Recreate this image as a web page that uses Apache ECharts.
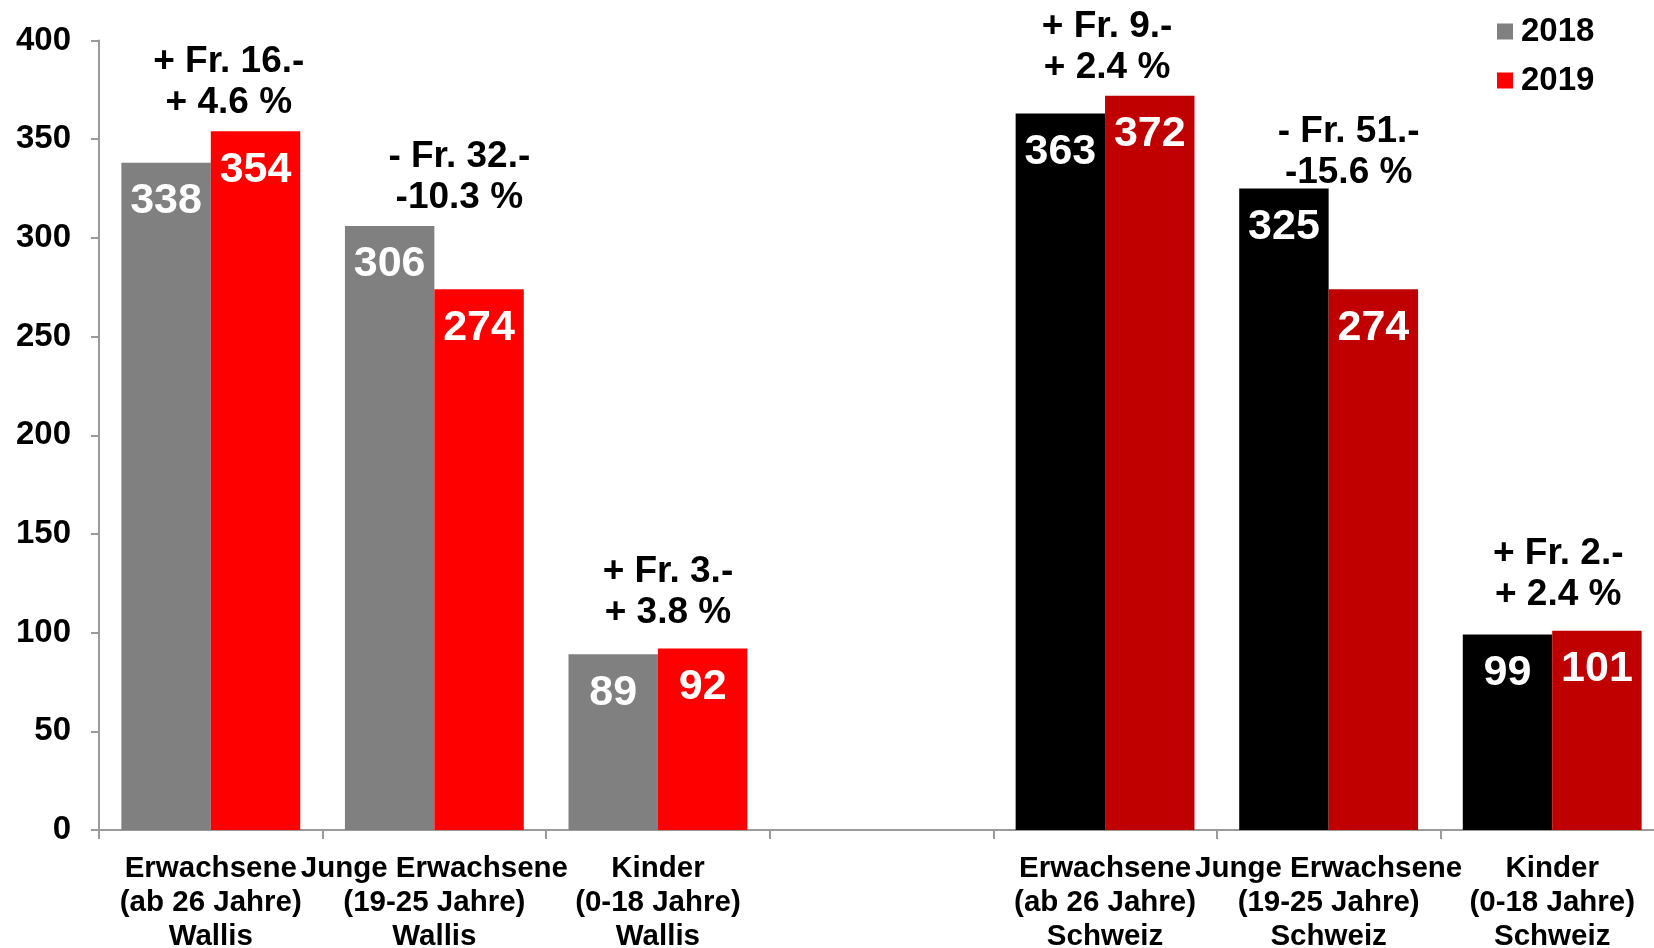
<!DOCTYPE html>
<html>
<head>
<meta charset="utf-8">
<script src="https://cdn.jsdelivr.net/npm/echarts@6/dist/echarts.min.js"></script>
<style>
html,body{margin:0;padding:0;background:#fff;overflow:hidden;}
#chart{width:1664px;height:948px;}
</style>
</head>
<body>
<div id="chart"></div>
<script>
const categories = [
  'Erwachsene\n(ab 26 Jahre)\nWallis',
  'Junge Erwachsene\n(19-25 Jahre)\nWallis',
  'Kinder\n(0-18 Jahre)\nWallis',
  '',
  'Erwachsene\n(ab 26 Jahre)\nSchweiz',
  'Junge Erwachsene\n(19-25 Jahre)\nSchweiz',
  'Kinder\n(0-18 Jahre)\nSchweiz'
];
const region = ['Wallis','Wallis','Wallis','','Schweiz','Schweiz','Schweiz'];
const values2018 = [338, 306, 89, null, 363, 325, 99];
const values2019 = [354, 274, 92, null, 372, 274, 101];
const changeFr  = ['+ Fr. 16.-', '- Fr. 32.-', '+ Fr. 3.-', null, '+ Fr. 9.-', '- Fr. 51.-', '+ Fr. 2.-'];
const changePct = ['+ 4.6 %', '-10.3 %', '+ 3.8 %', null, '+ 2.4 %', '-15.6 %', '+ 2.4 %'];
const yMin = 0, yMax = 400, yInterval = 50;

// layout-only: small nudges (px) of the change annotations
const annotNudgeX = [18, 25, 10, 0, 2, 20, 6];
const annotNudgeY = [0, 0, -7, 0, 1, 13, -7];

const FONT = "'Liberation Sans', Arial, sans-serif";
const colors = {
  Wallis:  {y2018: '#808080', y2019: '#FF0000'},
  Schweiz: {y2018: '#000000', y2019: '#C00000'}
};

function barData(vals, key) {
  return vals.map((v, i) => {
    if (v == null) return null;
    const r = region[i];
    return {value: v, itemStyle: {color: colors[r][key]}};
  });
}

const annData = [];
categories.forEach((c, i) => {
  if (changeFr[i] != null) {
    annData.push({
      value: [i, Math.max(values2018[i], values2019[i])],
      idx: i,
      label: {offset: [annotNudgeX[i], annotNudgeY[i]]}
    });
  }
});

const barLabel = {
  show: true, position: 'insideTop', distance: 17,
  color: '#fff', fontSize: 43, fontWeight: 'bold', fontFamily: FONT
};

const chart = echarts.init(document.getElementById('chart'), null, {renderer: 'canvas'});
chart.setOption({
  animation: false,
  backgroundColor: '#fff',
  grid: {left: 99, right: 0, top: 40.5, bottom: 118, containLabel: false, outerBoundsMode: 'none'},
  legend: {
    data: ['2018', '2019'],
    orient: 'vertical',
    left: 1492, top: 10,
    itemWidth: 16, itemHeight: 16, itemGap: 16,
    icon: 'rect',
    textStyle: {fontSize: 33, fontWeight: 'bold', color: '#000', fontFamily: FONT, padding: [0,0,0,3]}
  },
  xAxis: {
    type: 'category',
    data: categories,
    axisLine: {lineStyle: {color: '#9a9a9a', width: 2}},
    axisTick: {show: true, length: 9, lineStyle: {color: '#9a9a9a', width: 2}},
    axisLabel: {
      interval: 0, margin: 22,
      fontSize: 29.5, fontWeight: 'bold', color: '#000', fontFamily: FONT, lineHeight: 34
    }
  },
  yAxis: {
    type: 'value', min: yMin, max: yMax, interval: yInterval,
    splitLine: {show: false},
    axisLine: {show: true, lineStyle: {color: '#9a9a9a', width: 2}},
    axisTick: {show: true, length: 8, lineStyle: {color: '#9a9a9a', width: 2}},
    axisLabel: {margin: 28, fontSize: 33, fontWeight: 'bold', color: '#000', fontFamily: FONT}
  },
  series: [
    {
      name: '2018', type: 'bar', data: barData(values2018, 'y2018'),
      itemStyle: {color: colors.Wallis.y2018},
      barGap: '0%', barCategoryGap: '20%',
      label: barLabel
    },
    {
      name: '2019', type: 'bar', data: barData(values2019, 'y2019'),
      itemStyle: {color: colors.Wallis.y2019},
      barGap: '0%', barCategoryGap: '20%',
      label: barLabel
    },
    {
      name: 'annot', type: 'scatter', symbolSize: 0, data: annData, z: 10,
      silent: true,
      itemStyle: {opacity: 1},
      label: {
        show: true, position: 'top', distance: 8,
        fontSize: 37, fontWeight: 'bold', color: '#000', fontFamily: FONT, lineHeight: 41,
        align: 'center',
        formatter: p => changeFr[p.data.idx] + '\n' + changePct[p.data.idx]
      }
    }
  ]
});
</script>
</body>
</html>
